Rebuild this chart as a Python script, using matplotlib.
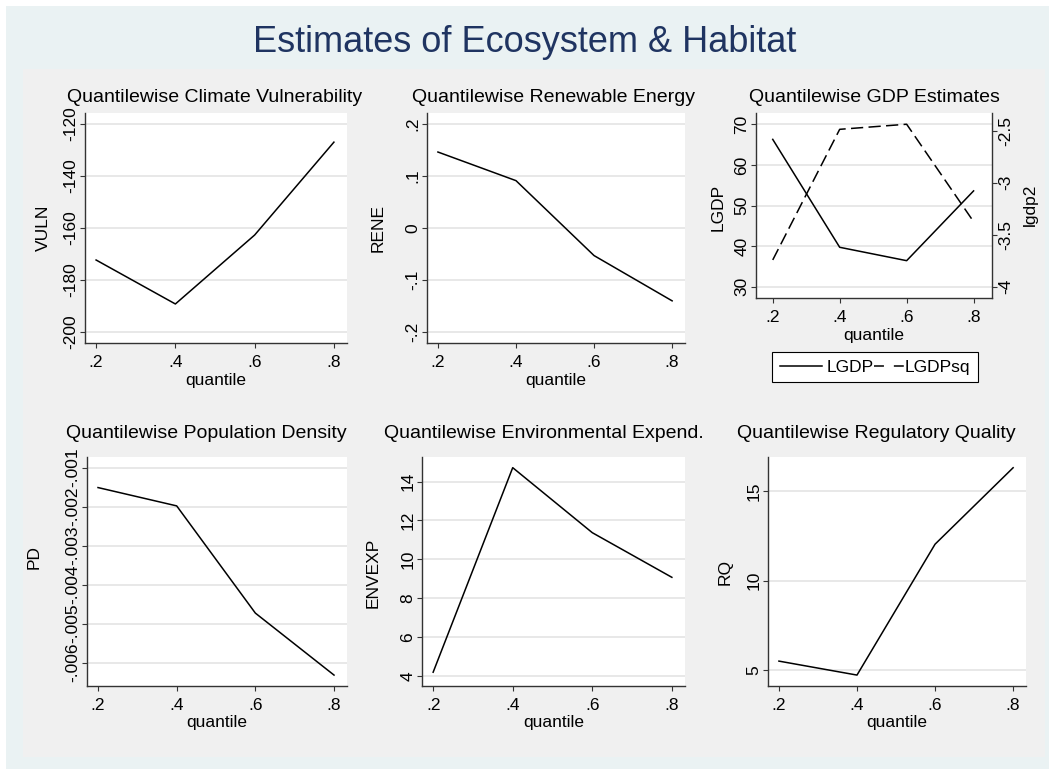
import matplotlib
matplotlib.use("Agg")
import matplotlib.pyplot as plt
from matplotlib.patches import Rectangle
from matplotlib.legend_handler import HandlerLine2D

plt.rcParams['font.family'] = ['Liberation Sans', 'DejaVu Sans']

# ---------------- data ----------------
quantile = [0.2, 0.4, 0.6, 0.8]
x_ticks = [0.2, 0.4, 0.6, 0.8]
x_ticklabels = ['.2', '.4', '.6', '.8']

vuln = [-172.3, -189.2, -162.7, -127.0]
vuln_ticks = [-200, -180, -160, -140, -120]
vuln_labels = ['-200', '-180', '-160', '-140', '-120']

rene = [0.146, 0.091, -0.053, -0.140]
rene_ticks = [-0.2, -0.1, 0.0, 0.1, 0.2]
rene_labels = ['-.2', '-.1', '0', '.1', '.2']

lgdp = [66.3, 39.7, 36.4, 53.6]
lgdp_ticks = [30, 40, 50, 60, 70]
lgdp_labels = ['30', '40', '50', '60', '70']
lgdpsq = [-3.743, -2.487, -2.438, -3.375]
lgdpsq_ticks = [-4, -3.5, -3, -2.5]
lgdpsq_labels = ['-4', '-3.5', '-3', '-2.5']

pd_vals = [-0.00151, -0.00198, -0.00473, -0.00632]
pd_ticks = [-0.006, -0.005, -0.004, -0.003, -0.002, -0.001]
pd_labels = ['-.006', '-.005', '-.004', '-.003', '-.002', '-.001']

envexp = [4.18, 14.72, 11.37, 9.07]
envexp_ticks = [4, 6, 8, 10, 12, 14]
envexp_labels = ['4', '6', '8', '10', '12', '14']

rq = [5.50, 4.72, 12.03, 16.3]
rq_ticks = [5, 10, 15]
rq_labels = ['5', '10', '15']

# ---------------- figure ----------------
W, H = 1049, 769
fig = plt.figure(figsize=(W / 100, H / 100), dpi=100)
fig.patch.set_facecolor('white')

def frect(l, t, r, b, color):
    fig.patches.append(Rectangle((l / W, 1 - b / H), (r - l) / W, (b - t) / H,
                                 transform=fig.transFigure, facecolor=color,
                                 edgecolor='none', zorder=-10))

frect(6, 6, W, H, '#eaf2f3')
frect(23, 69, 1045, 757, '#f0f0f0')

fig.text(525 / W, 1 - 43 / H, 'Estimates of Ecosystem & Habitat', ha='center', va='center',
         fontsize=26, color='#1f3461')

FS = 12.5
TFS = 14
AX_COL = '#333333'

def add_ax(l, t, r, b):
    return fig.add_axes([l / W, 1 - b / H, (r - l) / W, (b - t) / H])

def style(ax, yticks, ylabels):
    ax.set_facecolor('white')
    for s in ['top', 'right']:
        ax.spines[s].set_visible(False)
    for s in ['left', 'bottom']:
        ax.spines[s].set_color(AX_COL)
        ax.spines[s].set_linewidth(1.0)
    ax.set_xticks(x_ticks)
    ax.set_xticklabels(x_ticklabels)
    ax.set_yticks(yticks)
    ax.set_yticklabels(ylabels, rotation=90, va='center')
    ax.tick_params(axis='both', direction='out', length=3.6, width=0.8,
                   color=AX_COL, labelsize=FS)
    ax.tick_params(axis='x', pad=5)
    ax.tick_params(axis='y', pad=1)
    ax.yaxis.grid(True, color='#e6e6e6', lw=1.3)
    ax.set_axisbelow(True)

def ftext(x, y, s, **kw):
    fig.text(x / W, 1 - y / H, s, ha='center', va='center', fontsize=kw.pop('fontsize', FS), **kw)

XLIM = (0.172, 0.833)

# Panel 1
ax1 = add_ax(85, 113, 347, 343)
ax1.plot(quantile, vuln, color='black', lw=1.1)
ax1.set_xlim(*XLIM)
ax1.set_ylim(-204.2, -115.8)
style(ax1, vuln_ticks, vuln_labels)
ftext(215, 98, 'Quantilewise Climate Vulnerability', fontsize=TFS)
ftext(43, 228, 'VULN', rotation=90)
ftext(216, 381, 'quantile')

# Panel 2
ax2 = add_ax(427, 113, 685, 343)
ax2.plot(quantile, rene, color='black', lw=1.1)
ax2.set_xlim(*XLIM)
ax2.set_ylim(-0.221, 0.221)
style(ax2, rene_ticks, rene_labels)
ftext(554, 98, 'Quantilewise Renewable Energy', fontsize=TFS)
ftext(378, 228, 'RENE', rotation=90)
ftext(556, 381, 'quantile')

# Panel 3
ax3 = add_ax(756, 113, 992, 298)
l1, = ax3.plot(quantile, lgdp, color='black', lw=1.1, label='LGDP')
ax3.set_xlim(0.15, 0.855)
ax3.set_ylim(27.2, 72.8)
style(ax3, lgdp_ticks, lgdp_labels)
ax3b = ax3.twinx()
l2, = ax3b.plot(quantile, lgdpsq, color='black', lw=1.1, dashes=(8, 3.5), label='LGDPsq')
ax3b.set_ylim(-4.109, -2.33)
ax3b.set_yticks(lgdpsq_ticks)
ax3b.set_yticklabels(lgdpsq_labels, rotation=90, va='center')
ax3b.tick_params(axis='y', direction='out', length=3.6, width=0.8, color=AX_COL,
                 labelsize=FS, pad=1)
for s in ['top', 'left', 'bottom']:
    ax3b.spines[s].set_visible(False)
ax3b.spines['right'].set_color(AX_COL)
ax3b.spines['right'].set_linewidth(1.0)
ftext(874, 98, 'Quantilewise GDP Estimates', fontsize=TFS)
ftext(718, 207, 'LGDP', rotation=90)
ftext(1030, 205, 'lgdp2', rotation=90)
ftext(874, 335, 'quantile')


class PartLine(HandlerLine2D):
    """Legend key drawn over only a fraction [a, b] of the key box."""
    def __init__(self, a, b, dashes=None, **kw):
        super().__init__(**kw)
        self.a, self.b, self.dsh = a, b, dashes

    def create_artists(self, legend, orig_handle, xdescent, ydescent, width, height,
                       fontsize, trans):
        arts = super().create_artists(legend, orig_handle, xdescent - self.a * width,
                                      ydescent, (self.b - self.a) * width, height,
                                      fontsize, trans)
        if self.dsh is not None:
            arts[0].set_dashes(self.dsh)
        return arts


leg = fig.legend(handles=[l1, l2], loc='center', bbox_to_anchor=(875 / W, 1 - 367 / H),
                 bbox_transform=fig.transFigure, ncol=2, fontsize=FS, frameon=True,
                 fancybox=False, handlelength=2.7, handletextpad=0.0, columnspacing=-0.95,
                 borderpad=0.45, borderaxespad=0,
                 handler_map={l1: PartLine(0.0, 0.89),
                              l2: PartLine(0.35, 1.0, dashes=(6.5, 6.5))})
leg.get_frame().set_edgecolor('black')
leg.get_frame().set_linewidth(0.8)
leg.get_frame().set_facecolor('white')
leg.get_frame().set_alpha(1)

# Panel 4
ax4 = add_ax(87, 457, 347, 686)
ax4.plot(quantile, pd_vals, color='black', lw=1.1)
ax4.set_xlim(0.172, 0.833)
ax4.set_ylim(-0.0066, -0.000726)
style(ax4, pd_ticks, pd_labels)
ftext(206, 433, 'Quantilewise Population Density', fontsize=TFS)
ftext(34, 557, 'PD', rotation=90)
ftext(217, 723, 'quantile')

# Panel 5
ax5 = add_ax(422, 457, 685, 686)
ax5.plot(quantile, envexp, color='black', lw=1.1)
ax5.set_xlim(0.172, 0.833)
ax5.set_ylim(3.47, 15.27)
style(ax5, envexp_ticks, envexp_labels)
ftext(544, 433, 'Quantilewise Environmental Expend.', fontsize=TFS)
ftext(373, 573, 'ENVEXP', rotation=90)
ftext(554, 723, 'quantile')

# Panel 6
ax6 = add_ax(768, 457, 1026, 686)
ax6.plot(quantile, rq, color='black', lw=1.1)
ax6.set_xlim(0.172, 0.833)
ax6.set_ylim(4.11, 16.9)
style(ax6, rq_ticks, rq_labels)
ftext(876, 433, 'Quantilewise Regulatory Quality', fontsize=TFS)
ftext(725, 572, 'RQ', rotation=90)
ftext(897, 723, 'quantile')

fig.savefig('out.png', dpi=100, facecolor=fig.get_facecolor())
